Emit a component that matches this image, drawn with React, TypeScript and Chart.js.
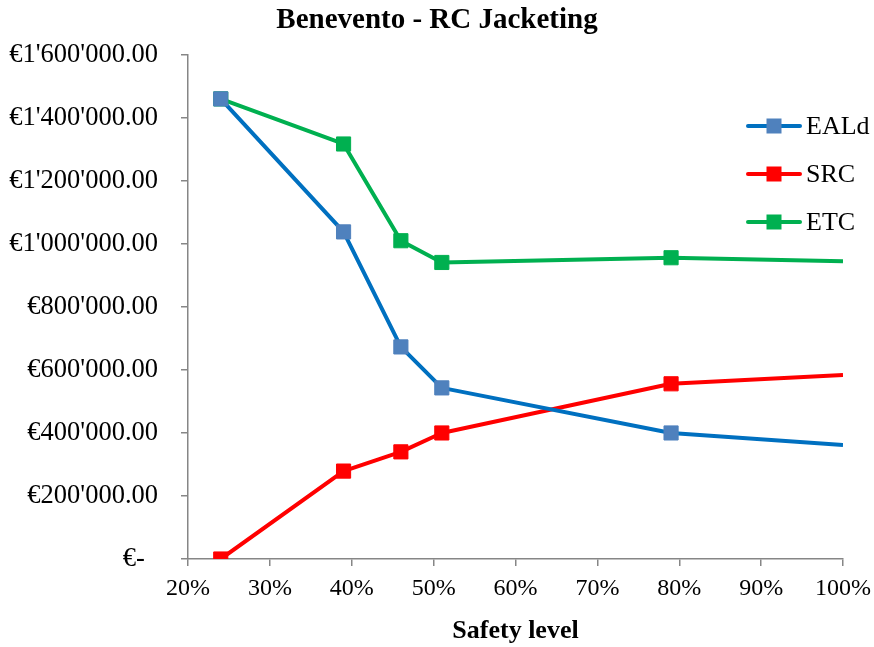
import React, { useEffect, useRef } from "react";
import { Chart, registerables } from "chart.js";

Chart.register(...registerables);

const safetyLevels = [24, 39, 46, 51, 79, 100];
const ealdValues = [1460000, 1038000, 673000, 543000, 400000, 362000];
const srcValues = [0, 279000, 340000, 400000, 556000, 584000];
const etcValues = [1460000, 1317000, 1010000, 941000, 956000, 945000];
const seriesNames = ["EALd", "SRC", "ETC"];
const markerRadii = [10, 10, 10, 10, 10, 0];

const FONT = "'Liberation Serif', 'Times New Roman', serif";
const AXIS_GRAY = "#868686";

const lineColors = ["#0070C0", "#FF0000", "#00B050"];
const markerColors = ["#4F81BD", "#FF0000", "#00B050"];

function fmtEuro(v: number): string {
  if (v === 0) return "€-  ";
  const s = Math.round(v).toString().replace(/\B(?=(\d{3})+(?!\d))/g, "'");
  return "€" + s + ".00";
}

const legendPlugin = {
  id: "customLegend",
  afterDraw(chart: any) {
    const ctx = chart.ctx;
    const area = chart.chartArea;
    const x0 = area.right - 95;
    const rows = [126, 174, 222];
    ctx.save();
    seriesNames.forEach((name, i) => {
      const y = rows[i];
      ctx.strokeStyle = lineColors[i];
      ctx.lineWidth = 4;
      ctx.lineCap = "round";
      ctx.beginPath();
      ctx.moveTo(x0, y);
      ctx.lineTo(x0 + 52, y);
      ctx.stroke();
      ctx.fillStyle = markerColors[i];
      ctx.fillRect(x0 + 26 - 7.5, y - 7.5, 15, 15);
      ctx.fillStyle = "#000";
      ctx.font = `26px ${FONT}`;
      ctx.textAlign = "left";
      ctx.textBaseline = "middle";
      ctx.fillText(name, x0 + 58, y + 1);
    });
    ctx.restore();
  },
};

export default function App() {
  const ref = useRef<HTMLCanvasElement | null>(null);

  useEffect(() => {
    if (!ref.current) return;
    const mk = (i: number, data: number[]) => ({
      label: seriesNames[i],
      data: safetyLevels.map((x, k) => ({ x, y: data[k] })),
      borderColor: lineColors[i],
      backgroundColor: markerColors[i],
      pointBackgroundColor: markerColors[i],
      pointBorderColor: markerColors[i],
      pointBorderWidth: 1,
      borderWidth: 4,
      pointStyle: "rect" as const,
      pointRadius: markerRadii,
      tension: 0,
      borderJoinStyle: "round" as const,
    });
    const chart = new Chart(ref.current, {
      type: "line",
      data: {
        datasets: [mk(0, ealdValues), mk(1, srcValues), mk(2, etcValues)],
      },
      options: {
        animation: false,
        responsive: true,
        maintainAspectRatio: false,
        layout: { padding: { left: 0, right: 0, top: 0, bottom: 0 } },
        plugins: {
          legend: { display: false },
          tooltip: { enabled: false },
          title: {
            display: true,
            text: "Benevento - RC Jacketing",
            color: "#000",
            font: { family: FONT, size: 29, weight: "bold" },
            padding: { top: 3, bottom: 17 },
          },
        },
        scales: {
          x: {
            type: "linear",
            min: 20,
            max: 100,
            border: { display: true, color: AXIS_GRAY, width: 1.5 },
            grid: {
              drawOnChartArea: false,
              drawTicks: true,
              tickLength: 7,
              color: AXIS_GRAY,
              lineWidth: 1.5,
            },
            ticks: {
              stepSize: 10,
              color: "#000",
              padding: 8,
              font: { family: FONT, size: 24 },
              callback: (v: any) => v + "%",
            },
            title: {
              display: true,
              text: "Safety level",
              color: "#000",
              font: { family: FONT, size: 26, weight: "bold" },
              padding: { top: 0, bottom: 0 },
            },
            afterFit: (s: any) => {
              s.height = 88;
              s.paddingRight = 31;
              s.paddingLeft = 0;
            },
          },
          y: {
            type: "linear",
            min: 0,
            max: 1600000,
            border: { display: true, color: AXIS_GRAY, width: 1.5 },
            grid: {
              drawOnChartArea: false,
              drawTicks: true,
              tickLength: 7,
              color: AXIS_GRAY,
              lineWidth: 1.5,
            },
            ticks: {
              stepSize: 200000,
              color: "#000",
              padding: 23,
              font: { family: FONT, size: 26.5 },
              callback: (v: any) => fmtEuro(Number(v)),
            },
            afterFit: (s: any) => {
              s.width = 188;
            },
          },
        },
      },
      plugins: [legendPlugin],
    });
    return () => chart.destroy();
  }, []);

  return (
    <div style={{ position: "absolute", left: 0, top: 0, width: 874, height: 647, background: "#fff" }}>
      <canvas ref={ref} />
    </div>
  );
}
